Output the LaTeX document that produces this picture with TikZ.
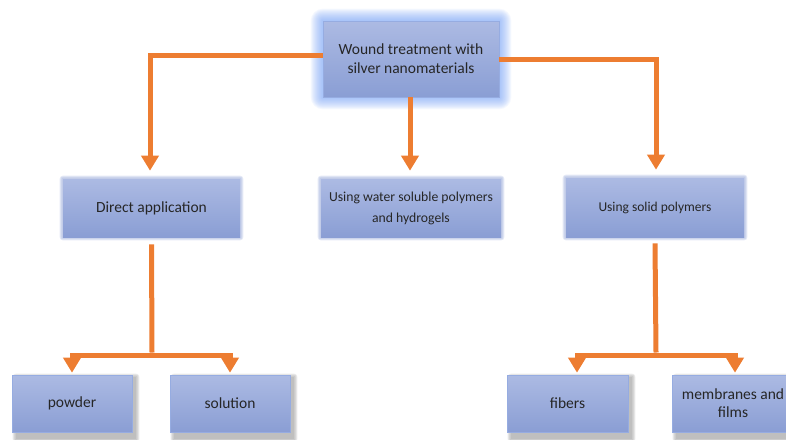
\documentclass[tikz,border=0pt]{standalone}
\usepackage{fontspec}
\setmainfont{Carlito}
\usetikzlibrary{arrows.meta,backgrounds}
\definecolor{org}{RGB}{237,125,49}
\definecolor{btop}{RGB}{172,186,227}
\definecolor{bbot}{RGB}{138,158,212}
\definecolor{bedge}{RGB}{150,172,225}
\definecolor{glowc}{RGB}{110,155,245}
\begin{document}
\begin{tikzpicture}[x=1pt,y=-1pt,
  box/.style={rectangle, draw=bedge, line width=0.6pt, top color=btop, bottom color=bbot,
    text=black!85, align=center, inner sep=0pt, font=\fontsize{15.5}{18.5}\selectfont},
  conn/.style={draw=org, line width=5pt, line join=miter},
  arr/.style={conn, -{Triangle[width=17pt,length=15pt]}},
]
\useasboundingbox (0,0) rectangle (786,439);
% nodes
\node[box, minimum width=176pt, minimum height=76pt, font=\fontsize{15.5}{19}\selectfont] (top) at (411,59) {Wound treatment with\\silver nanomaterials};
\node[box, draw=none, minimum width=177pt, minimum height=58pt] (da) at (151.5,208) {Direct application};
\node[box, draw=none, minimum width=180pt, minimum height=58pt, font=\fontsize{13.7}{21}\selectfont] (mid) at (411,208) {Using water soluble polymers\\and hydrogels};
\node[box, draw=none, minimum width=178pt, minimum height=59pt, font=\fontsize{13.5}{17}\selectfont] (sp) at (655,207.5) {Using solid polymers};
\node[box, minimum width=120pt, minimum height=57pt] (pw) at (72,403.5) {powder};
\node[box, minimum width=120pt, minimum height=57pt] (so) at (230,403.5) {solution};
\node[box, minimum width=121pt, minimum height=57pt] (fi) at (567.5,403.5) {fibers};
\node[box, minimum width=122pt, minimum height=57pt, font=\fontsize{15.5}{18}\selectfont] (mf) at (733,403.5) {membranes and\\films};
% decorations behind
\begin{scope}[on background layer]
  \foreach \i in {12,11,...,1}{
    \fill[glowc, opacity=0.07, rounded corners=\i pt]
      ([shift={(-\i pt,\i pt)}]top.north west) rectangle ([shift={(\i pt,-\i pt)}]top.south east);
  }
  \foreach \n in {da,mid,sp}{
    \foreach \i in {3,2,1}{
      \fill[bbot, opacity=0.22, rounded corners=\i pt]
        ([shift={(-\i pt,\i pt)}]\n.north west) rectangle ([shift={(\i pt,-\i pt)}]\n.south east);
    }
  }
  \foreach \n in {pw,so,fi,mf}{
    \foreach \i in {3,2,1,0}{
      \fill[black!55, opacity=0.14, rounded corners=\i pt]
        ([shift={(4pt-\i pt,-2pt+\i pt)}]\n.north west) rectangle ([shift={(4pt+\i pt,-7pt-\i pt)}]\n.south east);
    }
  }
\end{scope}
% connectors
\coordinate (jl) at (152,355);
\coordinate (jr) at (656,355);
\draw[arr, shorten >=8pt] ([yshift=4pt]top.west) -| ([xshift=-1.5pt]da.north);
\draw[arr, shorten >=8pt] (top.east) -| ([xshift=1pt]sp.north);
\draw[arr, shorten >=8pt] ([xshift=-1pt]top.south) -- ([xshift=-1pt]mid.north);
\draw[conn] ([yshift=-7pt]da.south) -- ([yshift=2.5pt]jl);
\draw[arr, shorten >=2pt] (jl) -| (pw.north);
\draw[arr, shorten >=2pt] (jl) -| (so.north);
\draw[conn] ([yshift=-6pt]sp.south) -- ([yshift=2.5pt]jr);
\draw[arr, shorten >=2pt] (jr) -| ([xshift=9.5pt]fi.north);
\draw[arr, shorten >=2pt] (jr) -| ([xshift=2pt]mf.north);
\end{tikzpicture}
\end{document}
